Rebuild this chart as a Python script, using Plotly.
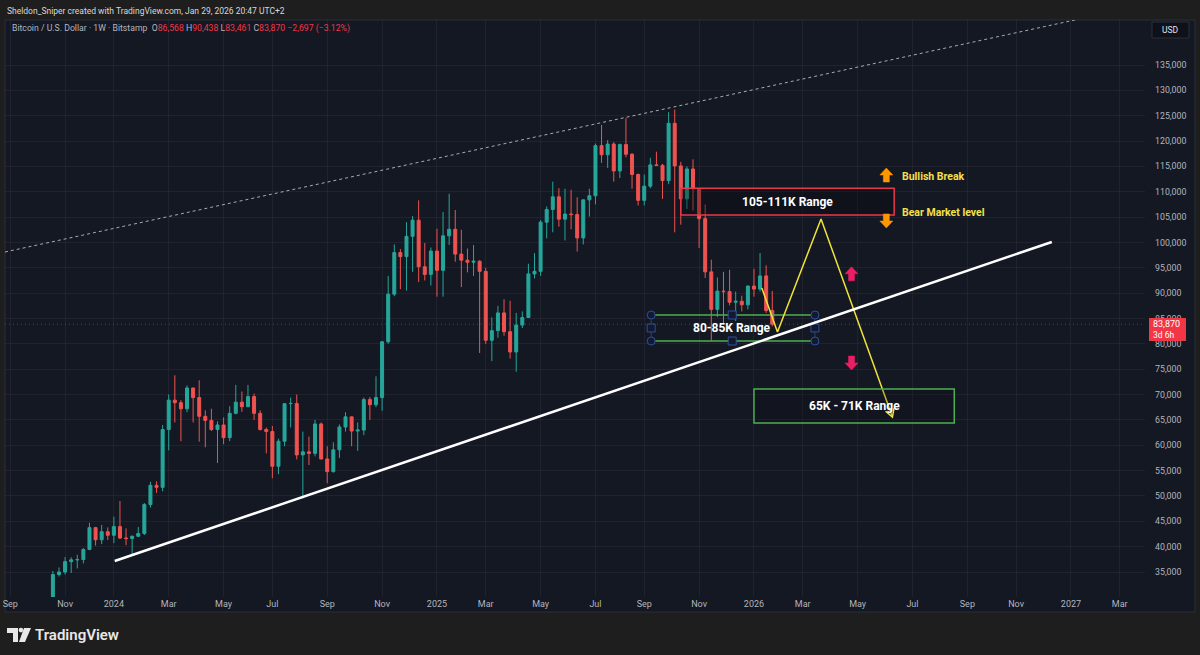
import plotly.graph_objects as go
import pandas as pd

# ---------------- DATA ----------------
first_week = "2023-10-23"
opens = [29990, 34500, 35000, 37050, 37400, 37450, 39450, 43750, 41350, 42950,
         42250, 43950, 41700, 41600, 42050, 42600, 48300, 52100, 51700, 63100,
         68900, 68400, 67200, 71300, 69400, 65700, 64900, 63100, 64000, 61500,
         66300, 68500, 67600, 69600, 66300, 63100, 62700, 55850, 60800, 68200,
         68250, 58100, 58700, 58400, 64200, 57300, 54800, 59100, 63600, 65600,
         62800, 63000, 69000, 68000, 69400, 80400, 89800, 98000, 97200, 101200,
         104400, 95200, 93700, 98300, 94500, 101300, 102600, 97700, 96500, 96100,
         96300, 94300, 80700, 82600, 86100, 82400, 78400, 83700, 85200, 93800,
         94300, 104000, 106500, 109000, 104600, 105600, 105500, 100900, 108400, 109200,
         119100, 117300, 119400, 114100, 119300, 117400, 113400, 108300, 111100, 115300,
         115200, 112200, 123500, 115100, 108600, 114500, 110600, 104700, 94200, 86800,
         90400, 90300, 88200, 88400, 87700, 91400, 90800, 93400, 86568]
highs = [35200, 35900, 37950, 37900, 38400, 39700, 44700, 43900, 44300, 43800,
         45900, 49000, 43600, 42200, 43900, 48600, 52800, 52900, 64000, 70000,
         73800, 68900, 71800, 71300, 72800, 66900, 67200, 64700, 65500, 67700,
         71900, 70600, 71900, 70200, 66900, 63500, 63800, 61300, 68300, 69400,
         70000, 62700, 61700, 65000, 64500, 59800, 60600, 64100, 66500, 65600,
         64500, 69400, 69500, 73600, 80500, 93400, 99600, 98700, 104000, 105200,
         108300, 99900, 99000, 102700, 106000, 109600, 106400, 102500, 98800, 99500,
         96500, 95000, 85200, 87500, 88800, 88500, 86100, 86400, 95800, 97900,
         104400, 107100, 112000, 110700, 110600, 110400, 108900, 108500, 110600, 119500,
         123200, 120200, 119800, 119500, 124500, 117600, 113600, 113400, 116700, 117900,
         115500, 125700, 126200, 115900, 115000, 116400, 110700, 107500, 96600, 93100,
         94200, 94600, 90300, 89500, 91500, 94800, 97900, 95500, 90438]
lows = [29700, 34100, 34500, 34800, 35700, 36700, 39300, 40200, 40500, 41300,
        40700, 41500, 40300, 38500, 41900, 42300, 47700, 50600, 50900, 59000,
        64500, 60800, 66500, 64500, 60700, 59600, 62800, 56500, 60200, 60800,
        66100, 66600, 67600, 65000, 62900, 58400, 53500, 54300, 59800, 63500,
        57200, 49500, 56100, 57800, 57200, 52500, 54600, 57500, 62700, 59800,
        58900, 62000, 65000, 67500, 66800, 80000, 89400, 90800, 90500, 94200,
        92200, 92500, 91500, 89300, 89300, 99500, 96200, 91200, 94100, 93400,
        78200, 80000, 76600, 81200, 81600, 77100, 74500, 83100, 85100, 92900,
        93400, 100800, 102000, 103100, 100400, 102600, 98200, 99600, 105100, 107500,
        115700, 114700, 112000, 112700, 116800, 110600, 107300, 107300, 110700, 115100,
        108600, 111500, 102000, 103500, 106600, 106300, 98900, 93000, 80600, 85300,
        83800, 87600, 84500, 86400, 86800, 89300, 90300, 86100, 83461]
closes = [34500, 35000, 37050, 37400, 37450, 39450, 43750, 41350, 42950, 42250,
          43950, 41700, 41600, 42050, 42600, 48300, 52100, 51700, 63100, 68900,
          68400, 67200, 71300, 69400, 65700, 64900, 63100, 64000, 61500, 66300,
          68500, 67600, 69600, 66300, 63100, 62700, 55850, 60800, 68200, 68250,
          58100, 58700, 58400, 64200, 57300, 54800, 59100, 63600, 65600, 62800,
          63000, 69000, 68000, 69400, 80400, 89800, 98000, 97200, 101200, 104400,
          95200, 93700, 98300, 94500, 101300, 102600, 97700, 96500, 96100, 96300,
          94300, 80700, 82600, 86100, 82400, 78400, 83700, 85200, 93800, 94300,
          104000, 106500, 109000, 104600, 105600, 105500, 100900, 108400, 109200, 119100,
          117300, 119400, 114100, 119300, 117400, 113400, 108300, 111100, 115300, 115200,
          112200, 123500, 115100, 108600, 114500, 110600, 104700, 94200, 86800, 90400,
          90300, 88200, 88400, 87700, 91400, 90800, 93400, 86567, 83870]
week_dates = pd.date_range(first_week, periods=len(opens), freq="7D")

tick_dates = ["2023-09-04", "2023-11-06", "2024-01-01", "2024-03-04", "2024-05-06",
              "2024-07-01", "2024-09-02", "2024-11-04", "2025-01-06", "2025-03-03",
              "2025-05-05", "2025-07-07", "2025-09-01", "2025-11-03", "2026-01-05",
              "2026-03-02", "2026-05-04", "2026-07-06", "2026-09-07", "2026-11-02",
              "2027-01-04", "2027-03-01"]
tick_labels = ["Sep", "Nov", "2024", "Mar", "May", "Jul", "Sep", "Nov", "2025", "Mar",
               "May", "Jul", "Sep", "Nov", "2026", "Mar", "May", "Jul", "Sep", "Nov",
               "2027", "Mar"]
price_ticks = list(range(35000, 135001, 5000))

# drawings (date, price)
trend_dates = ["2024-01-02", "2026-12-13"]
trend_prices = [37170, 100090]
channel_dates = ["2023-08-29", "2027-01-19"]
channel_prices = [98116, 144270]
zigzag_dates = ["2026-01-14", "2026-02-01", "2026-03-23", "2026-06-13"]
zigzag_prices = [91020, 82340, 104630, 65570]
upper_range_dates = ["2025-10-13", "2026-06-15"]
upper_range_prices = [105400, 110700]
mid_range_dates = ["2025-09-09", "2025-12-11", "2026-03-16"]
mid_range_prices = [80560, 83130, 85690]
low_range_dates = ["2026-01-05", "2026-08-23"]
low_range_prices = [64400, 71100]

PANEL = "#141823"
OUTER = "#1e1e1e"
GRID = "rgba(42,46,57,0.55)"
UP = "#26a69a"
DOWN = "#ef5350"
TXT = "#b2b5be"
FONT = "Roboto"

L, R, T, B = 5, 55, 20, 58
W, H = 1200, 655
PW, PH = W - L - R, H - T - B


def px(x, y):
    return (x - L) / PW, (H - B - y) / PH


fig = go.Figure()

fig.add_trace(go.Candlestick(
    x=week_dates, open=opens, high=highs, low=lows, close=closes,
    increasing=dict(line=dict(color=UP, width=1), fillcolor=UP),
    decreasing=dict(line=dict(color=DOWN, width=1), fillcolor=DOWN),
    whiskerwidth=0, showlegend=False, hoverinfo="skip"))

# 80-85K range lines + selection handles
GREEN = "#4caf50"
for p in (mid_range_prices[0], mid_range_prices[2]):
    fig.add_trace(go.Scatter(x=[mid_range_dates[0], mid_range_dates[2]], y=[p, p],
                             mode="lines", line=dict(color=GREEN, width=1.5),
                             showlegend=False, hoverinfo="skip"))
for d in (mid_range_dates[0], mid_range_dates[2]):
    fig.add_trace(go.Scatter(x=[d, d], y=[mid_range_prices[0], mid_range_prices[2]],
                             mode="lines", line=dict(color="#2d3f7a", width=1),
                             showlegend=False, hoverinfo="skip"))
hx_c = [mid_range_dates[0], mid_range_dates[2], mid_range_dates[0], mid_range_dates[2]]
hy_c = [mid_range_prices[2], mid_range_prices[2], mid_range_prices[0], mid_range_prices[0]]
hx_s = [mid_range_dates[0], mid_range_dates[2], mid_range_dates[1], mid_range_dates[1]]
hy_s = [mid_range_prices[1], mid_range_prices[1], mid_range_prices[2], mid_range_prices[0]]
fig.add_trace(go.Scatter(x=hx_c, y=hy_c, mode="markers",
                         marker=dict(symbol="circle", size=8, color="#131a2e",
                                     line=dict(color="#2f4f9e", width=1)),
                         showlegend=False, hoverinfo="skip"))
fig.add_trace(go.Scatter(x=hx_s, y=hy_s, mode="markers",
                         marker=dict(symbol="square", size=8, color="#131a2e",
                                     line=dict(color="#2f4f9e", width=1)),
                         showlegend=False, hoverinfo="skip"))

# yellow projection path
YEL = "#f2e33a"
fig.add_trace(go.Scatter(x=zigzag_dates, y=zigzag_prices, mode="lines",
                         line=dict(color=YEL, width=1.5), showlegend=False, hoverinfo="skip"))

shapes = []
# panel background (incl. axis areas)
x0, y0 = px(5, 20)
x1, y1 = px(1195, 612)
shapes.append(dict(type="rect", xref="paper", yref="paper", x0=x0, y0=y1, x1=x1, y1=y0,
                   fillcolor=PANEL, line=dict(color="#2a2e39", width=1), layer="below"))
# current price dotted line
shapes.append(dict(type="line", xref="paper", yref="y", x0=0, x1=1,
                   y0=closes[-1], y1=closes[-1],
                   line=dict(color="rgba(242,54,69,0.55)", width=1, dash="1px,3px")))
# dashed upper channel line
shapes.append(dict(type="line", xref="x", yref="y", x0=channel_dates[0], x1=channel_dates[1],
                   y0=channel_prices[0], y1=channel_prices[1],
                   line=dict(color="rgba(220,220,220,0.75)", width=1, dash="3px,3px")))
# white trendline
shapes.append(dict(type="line", xref="x", yref="y", x0=trend_dates[0], x1=trend_dates[1],
                   y0=trend_prices[0], y1=trend_prices[1],
                   line=dict(color="#ffffff", width=2.5)))
# 105-111K box
shapes.append(dict(type="rect", xref="x", yref="y", x0=upper_range_dates[0], x1=upper_range_dates[1],
                   y0=upper_range_prices[0], y1=upper_range_prices[1],
                   fillcolor="rgba(10,10,14,0.35)", line=dict(color="#e8394a", width=1.5)))
# 65-71K box
shapes.append(dict(type="rect", xref="x", yref="y", x0=low_range_dates[0], x1=low_range_dates[1],
                   y0=low_range_prices[0], y1=low_range_prices[1],
                   fillcolor="rgba(10,10,14,0.2)", line=dict(color=GREEN, width=1.5)))

UP_ARROW = "M -6.5,0 L 0,7 L 6.5,0 L 3,0 L 3,-7 L -3,-7 L -3,0 Z"
DN_ARROW = "M -6.5,0 L 0,-7 L 6.5,0 L 3,0 L 3,7 L -3,7 L -3,0 Z"


def arrow(path, d, p, color):
    shapes.append(dict(type="path", xref="x", yref="y", xsizemode="pixel", ysizemode="pixel",
                       xanchor=d, yanchor=p, path=path, fillcolor=color,
                       line=dict(color=color, width=0.5)))


ORANGE = "#ff9800"
PINK = "#e91e63"
arrow(UP_ARROW, "2026-06-06", 113300, ORANGE)
arrow(DN_ARROW, "2026-06-06", 104230, ORANGE)
arrow(UP_ARROW, "2026-04-27", 93820, PINK)
arrow(DN_ARROW, "2026-04-27", 76230, PINK)
# chevron at end of projection
shapes.append(dict(type="path", xref="x", yref="y", xsizemode="pixel", ysizemode="pixel",
                   xanchor=zigzag_dates[-1], yanchor=zigzag_prices[-1],
                   path="M 1.6,8.9 L 0,0 L -6.9,5.8", line=dict(color=YEL, width=1.5)))

# USD box
ux0, uy0 = px(1152, 22)
ux1, uy1 = px(1189, 38)
shapes.append(dict(type="rect", xref="paper", yref="paper", x0=ux0, y0=uy1, x1=ux1, y1=uy0,
                   fillcolor="#0f1118", line=dict(color="#2a2e39", width=1)))
# price label box
bx0, by0 = px(1149, 318)
bx1, by1 = px(1186, 341)
shapes.append(dict(type="rect", xref="paper", yref="paper", x0=bx0, y0=by1, x1=bx1, y1=by0,
                   fillcolor="#f23645", line=dict(width=0)))


# TradingView logo glyph
def poly(points, color="#e8e8e8"):
    pts = [px(a, b) for a, b in points]
    path = "M " + " L ".join(f"{a:.5f},{b:.5f}" for a, b in pts) + " Z"
    shapes.append(dict(type="path", xref="paper", yref="paper", path=path,
                       fillcolor=color, line=dict(width=0)))


poly([(7, 628), (18, 628), (18, 642), (13, 642), (13, 633), (7, 633)])
poly([(24, 628), (31, 628), (25, 642), (19, 642)])
cx0, cy0 = px(18.6, 627.8)
cx1, cy1 = px(23.2, 632.4)
shapes.append(dict(type="circle", xref="paper", yref="paper", x0=cx0, y0=cy1, x1=cx1, y1=cy0,
                   fillcolor="#e8e8e8", line=dict(width=0)))

annotations = []


def ptext(x, y, text, size, color, anchor="left", weight="normal"):
    ax, ay = px(x, y)
    annotations.append(dict(xref="paper", yref="paper", x=ax, y=ay, text=text, showarrow=False,
                            xanchor=anchor, yanchor="middle",
                            font=dict(family=FONT, size=size, color=color, weight=weight)))


ptext(5, 11, "Sheldon_Sniper created with TradingView.com, Jan 29, 2026 20:47 UTC+2", 8.5, "#d8d8d8")
RED = "#f23645"
chg = closes[-1] - closes[-2]
pct = chg / closes[-2] * 100
legend = ("Bitcoin / U.S. Dollar · 1W · Bitstamp&nbsp;&nbsp;"
          f"O<span style='color:{RED}'>{opens[-1]:,}</span> "
          f"H<span style='color:{RED}'>{highs[-1]:,}</span> "
          f"L<span style='color:{RED}'>{lows[-1]:,}</span> "
          f"C<span style='color:{RED}'>{closes[-1]:,}</span> "
          f"<span style='color:{RED}'>{chg:+,} ({pct:+.2f}%)</span>").replace("-", "−")
ptext(10, 29, legend, 8.7, TXT)
ptext(1170.5, 30, "USD", 8.5, "#e0e3eb", anchor="center")
ptext(1151, 324, f"{closes[-1]:,}", 9, "#ffffff")
ptext(1151, 335, "3d 6h", 8.5, "#ffffff")
ptext(33, 635, "TradingView", 15, "#e8e8e8", weight=600)


def dtext(d, p, text, size, color, anchor="center"):
    annotations.append(dict(xref="x", yref="y", x=d, y=p, text=text, showarrow=False,
                            xanchor=anchor, yanchor="middle",
                            font=dict(family=FONT, size=size, color=color, weight="bold")))


dtext("2026-02-12", sum(upper_range_prices) / 2, "105-111K Range", 12, "#ffffff")
dtext(mid_range_dates[1], mid_range_prices[1], "80-85K Range", 12, "#ffffff")
dtext("2026-05-01", sum(low_range_prices) / 2, "65K - 71K Range", 12, "#ffffff")
dtext("2026-06-22", 113100, "Bullish Break", 10.5, "#f5e04a", anchor="left")
dtext("2026-06-22", 105820, "Bear Market level", 10.5, "#f5e04a", anchor="left")

fig.update_layout(
    width=W, height=H,
    margin=dict(l=L, r=R, t=T, b=B, autoexpand=False),
    paper_bgcolor=OUTER, plot_bgcolor=PANEL,
    shapes=shapes, annotations=annotations,
    showlegend=False, hovermode=False,
    xaxis=dict(type="date", range=["2023-08-29", "2027-03-30"],
               tickvals=tick_dates, ticktext=tick_labels, automargin=False,
               showgrid=True, gridcolor=GRID, gridwidth=1, zeroline=False,
               showline=False, ticks="", tickfont=dict(family=FONT, size=9, color=TXT),
               rangeslider=dict(visible=False), fixedrange=True),
    yaxis=dict(side="right", range=[30069, 143876], tickvals=price_ticks,
               ticktext=[f"{v:,}" for v in price_ticks], automargin=False,
               showgrid=True, gridcolor=GRID, gridwidth=1, zeroline=False,
               showline=False, ticks="", ticklabelstandoff=9,
               tickfont=dict(family=FONT, size=8.8, color=TXT), fixedrange=True),
)

fig.write_html("out.html", config={"displayModeBar": False},
               post_script="document.body.style.margin='0';document.body.style.overflow='hidden';")
